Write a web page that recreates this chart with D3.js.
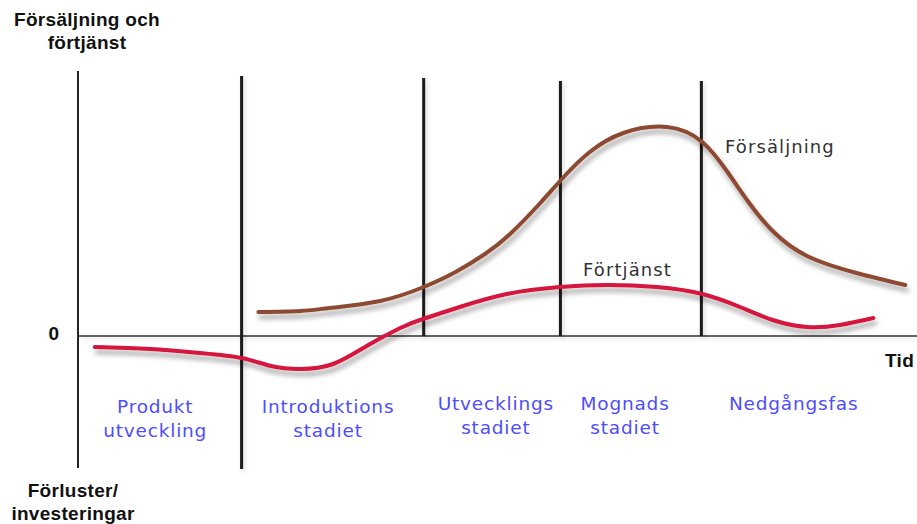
<!DOCTYPE html>
<html>
<head>
<meta charset="utf-8">
<script src="https://cdn.jsdelivr.net/npm/d3@7"></script>
<style>
  body { margin: 0; background: #fff; }
  svg { display: block; }
</style>
</head>
<body>
<svg id="chart"></svg>
<script>
// Phase boundaries along the time axis (0-100)
const phaseBounds = [19.5, 41.2, 57.5, 74.3];

// Phase labels (one or two lines each) and their centre time
const phaseLabels = [
  { t: 9.2,  lines: ["Produkt", "utveckling"] },
  { t: 29.8, lines: ["Introduktions", "stadiet"] },
  { t: 49.8, lines: ["Utvecklings", "stadiet"] },
  { t: 65.2, lines: ["Mognads", "stadiet"] },
  { t: 85.3, lines: ["Nedgångsfas"] }
];

// Sales curve (Försäljning)
const salesT = [21.5, 26.5, 30.0, 36.0, 41.2, 45.0, 48.5, 51.5, 55.1, 58.0, 61.0, 65.0, 70.2, 74.4, 77.5, 80.0, 82.8, 86.9, 92.8, 98.6];
const salesV = [4.8, 5.0, 5.6, 7.0, 9.8, 12.8, 16.4, 20.4, 26.6, 32.0, 36.8, 40.6, 41.8, 38.8, 32.6, 26.6, 21.0, 16.0, 12.6, 10.2];

// Profit curve (Förtjänst)
const profitT = [2.0, 8.6, 14.5, 19.5, 23.0, 26.5, 30.4, 34.4, 38.4, 41.1, 45.5, 51.1, 57.4, 63.1, 69.0, 74.4, 78.9, 82.8, 86.9, 90.8, 94.8];
const profitV = [-2.2, -2.6, -3.4, -4.4, -6.0, -6.6, -5.6, -2.0, 1.6, 3.4, 5.8, 8.4, 9.8, 10.2, 9.8, 8.4, 5.8, 3.2, 1.8, 2.2, 3.6];

const width = 917, height = 524;

const svg = d3.select("#chart")
    .attr("width", width)
    .attr("height", height);

const x = d3.scaleLinear().domain([0, 100]).range([78, 917]);
const y = d3.scaleLinear().domain([-26.4, 53]).range([468, 71]);

// drop shadows
const defs = svg.append("defs");
const shadow = defs.append("filter")
    .attr("id", "shadow")
    .attr("filterUnits", "userSpaceOnUse")
    .attr("x", 0).attr("y", 0)
    .attr("width", width).attr("height", height);
shadow.append("feDropShadow")
    .attr("dx", 2).attr("dy", 5)
    .attr("stdDeviation", 2.5)
    .attr("flood-color", "#000")
    .attr("flood-opacity", 0.35);

const lineShadow = defs.append("filter")
    .attr("id", "lshadow")
    .attr("filterUnits", "userSpaceOnUse")
    .attr("x", 0).attr("y", 0)
    .attr("width", width).attr("height", height);
lineShadow.append("feDropShadow")
    .attr("dx", 2).attr("dy", 2)
    .attr("stdDeviation", 2)
    .attr("flood-color", "#000")
    .attr("flood-opacity", 0.15);

// Axes
svg.append("line")
    .attr("x1", x(0)).attr("x2", x(0))
    .attr("y1", y(53)).attr("y2", y(-26.4))
    .attr("stroke", "#222").attr("stroke-width", 2);

svg.append("line")
    .attr("x1", x(0)).attr("x2", x(100))
    .attr("y1", y(0)).attr("y2", y(0))
    .attr("stroke", "#333").attr("stroke-width", 1.5)
    .attr("filter", "url(#lshadow)");

// Phase lines
svg.selectAll("line.phase")
    .data(phaseBounds)
  .join("line")
    .attr("class", "phase")
    .attr("x1", d => x(d)).attr("x2", d => x(d))
    .attr("y1", (d, i) => i === 0 ? y(52) : (i === 1 ? y(51.6) : y(51)))
    .attr("y2", (d, i) => i === 0 ? y(-26.6) : y(0))
    .attr("stroke", "#1a1a1a").attr("stroke-width", 3)
    .attr("filter", "url(#lshadow)");

const line = d3.line()
    .x(d => x(d[0]))
    .y(d => y(d[1]))
    .curve(d3.curveNatural);

svg.append("path")
    .datum(d3.zip(salesT, salesV))
    .attr("d", line)
    .attr("fill", "none")
    .attr("stroke", "#8d4a30")
    .attr("stroke-width", 4)
    .attr("stroke-linecap", "round")
    .attr("filter", "url(#shadow)");

svg.append("path")
    .datum(d3.zip(profitT, profitV))
    .attr("d", line)
    .attr("fill", "none")
    .attr("stroke", "#d5123c")
    .attr("stroke-width", 4)
    .attr("stroke-linecap", "round")
    .attr("filter", "url(#shadow)");

// Curve labels
const plain = { "font-family": "DejaVu Sans, Verdana, sans-serif", "font-size": 18, "letter-spacing": 1.1, "fill": "#333" };
function label(s, lx, ly, anchor) {
  const t = svg.append("text").attr("x", lx).attr("y", ly).attr("text-anchor", anchor).text(s);
  Object.entries(plain).forEach(([k, v]) => t.attr(k, v));
}
label("Försäljning", 725, 153, "start");
label("Förtjänst", 583, 276, "start");

// Phase labels
const pl = svg.selectAll("text.phaseLabel")
    .data(phaseLabels)
  .join("text")
    .attr("class", "phaseLabel")
    .attr("text-anchor", "middle")
    .attr("font-family", "DejaVu Sans, Verdana, sans-serif")
    .attr("font-size", 18.5)
    .attr("letter-spacing", 0.8)
    .attr("fill", "#4d4dff")
    .attr("transform", (d, i) => `translate(${x(d.t)},${i < 2 ? 413 : 410})`);
pl.selectAll("tspan")
    .data(d => d.lines)
  .join("tspan")
    .attr("x", 0)
    .attr("dy", (d, i) => i === 0 ? 0 : 24)
    .text(d => d);

// Axis titles
const bold = { "font-family": "Liberation Sans, Arial, sans-serif", "font-weight": "bold", "font-size": 19, "letter-spacing": 0.3, "fill": "#111" };
function title(lines, cx, y0, anchor) {
  const t = svg.append("text").attr("text-anchor", anchor || "middle");
  Object.entries(bold).forEach(([k, v]) => t.attr(k, v));
  lines.forEach((s, i) => t.append("tspan").attr("x", cx).attr("y", y0 + i * 23).text(s));
}
title(["Försäljning och", "förtjänst"], 87, 26);
title(["Förluster/", "investeringar"], 73, 497);
title(["0"], 54, 340);
title(["Tid"], 885, 367, "start");
</script>
</body>
</html>
